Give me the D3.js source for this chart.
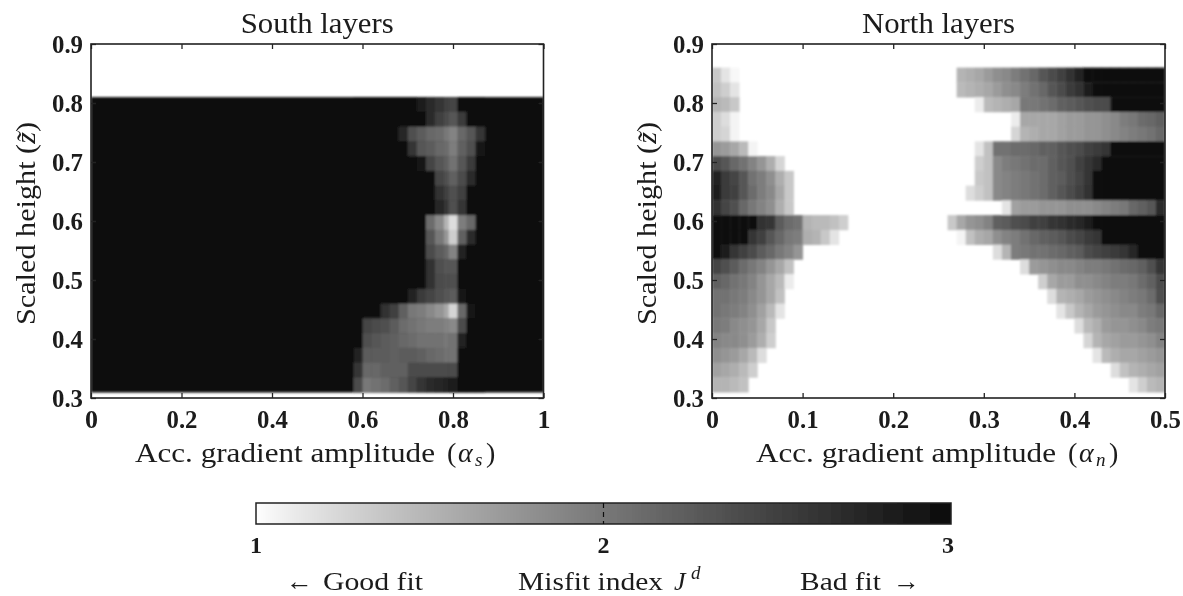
<!DOCTYPE html>
<html><head><meta charset="utf-8">
<script src="https://cdn.jsdelivr.net/npm/d3@7/dist/d3.min.js"></script>
<style>
html,body{margin:0;padding:0;background:#fff}
svg{display:block}
text{font-family:"Liberation Serif",serif;fill:#1a1a1a}
.tick text{font-weight:bold;font-size:25px}
</style></head><body>
<svg id="c" width="1183" height="596"></svg>
<script>
// ---------- data ----------
const titles = ["South layers", "North layers"];
const southTicksX = [0, 0.2, 0.4, 0.6, 0.8, 1];
const northTicksX = [0, 0.1, 0.2, 0.3, 0.4, 0.5];
const ticksY = [0.3, 0.4, 0.5, 0.6, 0.7, 0.8, 0.9];
const barTicks = [1, 2, 3];
const rowTopZ = 0.86;          // top of the first north row
const rowStep = 0.025;
const colStepNorth = 0.01;

// South: everything is J=3 except this window; edges in alpha, rows from z = 0.81 downward
const southEdges = [0.58,0.60,0.62,0.64,0.66,0.68,0.70,0.72,0.74,0.76,0.78,0.79,0.81,0.83,0.85,0.87];
const southRows = [
 [3,3,3,3,3,3,3,2.85,2.7,2.6,2.5,2.45,2.95,3,3],
 [3,3,3,3,3,3,3,3,2.7,2.5,2.4,2.3,2.55,3,3],
 [3,3,3,3,3,2.75,2.35,2.25,2.15,2.1,2.0,1.9,2.15,2.3,2.6],
 [3,3,3,3,3,3,2.6,2.3,2.25,2.15,2.1,1.95,2.2,2.35,2.9],
 [3,3,3,3,3,3,3,2.9,2.45,2.3,2.2,2.05,2.3,2.55,3],
 [3,3,3,3,3,3,3,3,2.95,2.45,2.35,2.2,2.4,2.7,3],
 [3,3,3,3,3,3,3,3,3,2.65,2.5,2.35,2.5,3,3],
 [3,3,3,3,3,3,3,3,2.95,2.75,2.6,2.35,2.6,3,3],
 [3,3,3,3,3,3,3,3,2.1,1.85,1.5,1.2,1.95,2.15,3],
 [3,3,3,3,3,3,3,3,2.3,2.0,1.75,1.3,2.2,2.7,3],
 [3,3,3,3,3,3,3,3,2.4,2.25,2.15,1.9,2.8,3,3],
 [3,3,3,3,3,3,3,3,2.65,2.35,2.3,2.3,3,3,3],
 [3,3,3,3,3,3,3,3,2.65,2.4,2.35,2.35,3,3,3],
 [3,3,3,3,3,3,2.8,2.55,2.45,2.35,2.3,2.25,2.9,3,3],
 [3,3,3,2.65,2.5,2.2,2.0,1.95,1.85,1.75,1.6,1.25,2.15,2.9,3],
 [3,2.45,2.4,2.35,2.25,2.1,2.05,2.0,1.95,1.95,1.9,1.85,2.4,3,3],
 [3,2.35,2.3,2.25,2.2,2.15,2.1,2.05,2.05,2.05,2.0,2.05,2.8,3,3],
 [2.8,2.25,2.25,2.25,2.2,2.25,2.25,2.2,2.15,2.1,2.05,2.05,3,3,3],
 [2.6,2.15,2.15,2.2,2.2,2.2,2.4,2.4,2.4,2.4,2.4,2.4,3,3,3],
 [2.4,2.0,2.05,2.1,2.2,2.3,2.45,2.6,2.7,2.75,2.8,2.85,3,3,3]
];

// North, left wedge: values from column 0 on; rows from z = 0.86 downward
const northLeft = [
 [1.35,1.15,1.03],
 [1.4,1.3,1.15],
 [1.5,1.45,1.35],
 [1.3,1.2,1.05],
 [1.3,1.25,1.05],
 [1.75,1.7,1.6,1.45,1.05],
 [2.4,2.3,2.15,2.05,1.9,1.75,1.55,1.25],
 [2.8,2.55,2.45,2.3,2.05,1.95,1.8,1.55,1.35],
 [2.85,2.55,2.5,2.3,2.1,1.95,1.85,1.6,1.35],
 [2.65,2.45,2.35,2.15,2.0,1.9,1.8,1.55,1.35],
 [2.95,2.95,2.95,2.95,2.95,2.65,2.6,2.25,2.1,2.05,1.5,1.45,1.45,1.4,1.3],
 [2.95,2.95,2.95,2.95,2.6,2.5,2.3,2.15,2.0,1.95,1.55,1.5,1.35,1.15],
 [2.95,2.85,2.6,2.5,2.4,2.25,2.15,2.0,1.9,1.75],
 [2.45,2.35,2.25,2.1,2.0,1.9,1.75,1.6,1.4],
 [2.2,2.15,2.05,2.0,1.9,1.75,1.6,1.45,1.1],
 [2.05,2.05,2.0,1.95,1.85,1.75,1.6,1.4],
 [2.05,2.0,1.95,1.9,1.8,1.65,1.45,1.15],
 [2.0,1.95,1.85,1.8,1.75,1.6,1.35],
 [1.9,1.85,1.85,1.8,1.7,1.55,1.3],
 [1.8,1.75,1.7,1.6,1.45,1.2],
 [1.65,1.6,1.55,1.45,1.3],
 [1.5,1.5,1.45,1.4]
];
// North, right wedge: first column of each row, then its values up to column 49
const northRightStart = [27,27,29,33,33,29,29,29,28,32,26,27,31,34,36,37,38,40,41,42,44,46];
const northRight = [
 [1.5,1.55,1.6,1.7,1.8,1.85,1.95,2.05,2.15,2.3,2.4,2.5,2.65,2.8,2.95,3,3,3,3,3,3,3,3],
 [1.45,1.5,1.55,1.6,1.7,1.8,1.85,1.95,2.05,2.15,2.3,2.4,2.55,2.65,2.85,3,3,3,3,3,3,3,3],
 [1.1,1.45,1.5,1.55,1.6,2.0,2.0,2.05,2.1,2.2,2.25,2.3,2.35,2.4,2.4,3,3,3,3,3,3],
 [1.1,1.6,1.6,1.6,1.6,1.65,1.7,1.7,1.75,1.75,1.8,1.85,1.95,2.0,2.1,2.15,2.2],
 [1.25,1.5,1.55,1.6,1.6,1.65,1.7,1.7,1.75,1.75,1.8,1.85,1.9,1.95,2.0,2.05,2.15],
 [1.15,1.4,2.05,2.05,2.1,2.1,2.15,2.2,2.2,2.3,2.35,2.4,2.5,2.55,2.6,3,3,3,3,3,3],
 [1.3,1.4,1.85,1.95,2,2.05,2.1,2.1,2.2,2.3,2.35,2.5,2.6,2.7,3,3,3,3,3,3,3],
 [1.35,1.4,1.85,1.9,1.95,2,2.05,2.1,2.2,2.25,2.35,2.45,2.6,3,3,3,3,3,3,3,3],
 [1.2,1.3,1.4,1.85,1.9,1.95,2,2.05,2.1,2.2,2.3,2.4,2.5,2.65,3,3,3,3,3,3,3,3],
 [1.15,1.65,1.7,1.7,1.75,1.75,1.75,1.8,1.8,1.8,1.85,1.9,1.95,2.0,2.15,2.2,2.3,2.7],
 [1.35,1.6,1.75,1.8,1.9,2.2,2.25,2.35,2.4,2.5,2.5,2.6,2.65,2.7,2.75,2.85,3,3,3,3,3,3,3,3],
 [1.05,1.4,1.55,1.6,1.8,1.9,1.95,2.05,2.15,2.2,2.25,2.3,2.4,2.45,2.55,2.6,3,3,3,3,3,3,3],
 [1.2,1.5,1.95,2.0,2.05,2.05,2.1,2.15,2.2,2.25,2.4,2.45,2.5,2.55,2.6,2.75,3,3,3],
 [1.2,1.7,1.75,1.8,1.85,1.85,1.9,1.95,1.95,2,2.05,2.1,2.15,2.2,2.35,2.6],
 [1.3,1.6,1.7,1.7,1.8,1.8,1.85,1.9,1.95,1.95,2,2.1,2.2,2.4],
 [1.2,1.5,1.55,1.6,1.7,1.75,1.8,1.85,1.9,1.95,2,2.1,2.35],
 [1.15,1.35,1.5,1.6,1.7,1.75,1.8,1.85,1.85,1.95,2,2.15],
 [1.2,1.45,1.55,1.7,1.75,1.75,1.8,1.85,1.95,2],
 [1.25,1.5,1.6,1.65,1.7,1.7,1.75,1.8,1.9],
 [1.15,1.45,1.55,1.6,1.6,1.65,1.7,1.75],
 [1.2,1.4,1.5,1.55,1.6,1.65],
 [1.15,1.3,1.45,1.5]
];

// ---------- drawing ----------
const svg = d3.select("#c");
const defs = svg.append("defs");
defs.append("filter").attr("id","soft").attr("x","-2%").attr("y","-2%").attr("width","104%").attr("height","104%")
  .append("feGaussianBlur").attr("stdDeviation",0.9);
defs.append("filter").attr("id","softText").attr("x","-2%").attr("y","-2%").attr("width","104%").attr("height","104%")
  .append("feGaussianBlur").attr("stdDeviation",0.4);

const misfitT = d3.scaleLinear().domain([1,3]).range([0,1]).clamp(true);
const grayRamp = d3.interpolateRgb("#ffffff","#0b0b0b");
const color = v => grayRamp(Math.pow(misfitT(v),0.85));
const yTop = 44, yBot = 398;
const y = d3.scaleLinear().domain([0.3,0.9]).range([yBot,yTop]);
const ink = "#222";
const stretch = "spacingAndGlyphs";

function panel(idx, x0, x1, xDom, xTicks, cells, xlabelSub, lx, closeOffset){
  const x = d3.scaleLinear().domain(xDom).range([x0,x1]);
  const g = svg.append("g");
  const clip = "clip"+idx;
  defs.append("clipPath").attr("id",clip).append("rect")
    .attr("x",x0).attr("y",yTop).attr("width",x1-x0).attr("height",yBot-yTop);
  g.append("g").attr("clip-path",`url(#${clip})`)
   .append("g").attr("filter","url(#soft)")
   .selectAll("rect").data(cells).join("rect")
    .attr("x",d=>x(d.a0)).attr("width",d=>x(d.a1)-x(d.a0)+0.4)
    .attr("y",d=>y(d.z1)).attr("height",d=>y(d.z0)-y(d.z1)+0.4)
    .attr("fill",d=>color(d.v));
  const fmt = d=>String(d);
  const inner = 5;
  const bottom = d3.axisBottom(x).tickValues(xTicks).tickFormat(fmt).tickSizeInner(-inner).tickSizeOuter(0).tickPadding(12);
  const top = d3.axisTop(x).tickValues(xTicks).tickFormat("").tickSizeInner(-inner).tickSizeOuter(0);
  const left = d3.axisLeft(y).tickValues(ticksY).tickFormat(d=>d.toFixed(1)).tickSizeInner(-inner).tickSizeOuter(0).tickPadding(8);
  const right = d3.axisRight(y).tickValues(ticksY).tickFormat("").tickSizeInner(-inner).tickSizeOuter(0);
  const ag = g.append("g").attr("filter","url(#softText)");
  ag.append("g").attr("transform",`translate(0,${yBot})`).call(bottom);
  ag.append("g").attr("transform",`translate(0,${yTop})`).call(top);
  ag.append("g").attr("transform",`translate(${x0},0)`).call(left);
  ag.append("g").attr("transform",`translate(${x1},0)`).call(right);
  ag.selectAll(".domain").remove();
  ag.selectAll(".tick line").attr("stroke",ink).attr("stroke-width",1.3);
  ag.append("rect").attr("x",x0).attr("y",yTop).attr("width",x1-x0).attr("height",yBot-yTop)
    .attr("fill","none").attr("stroke",ink).attr("stroke-width",1.6);
  ag.selectAll(".tick text").attr("fill","#111")
    .attr("textLength",function(){return this.textContent.length>1?31:13;}).attr("lengthAdjust",stretch);
  // title
  ag.append("text").attr("x",(x0+x1)/2).attr("y",33).attr("text-anchor","middle")
    .attr("font-size",29).attr("textLength",153).attr("lengthAdjust",stretch).text(titles[idx]);
  // y label
  const yl = ag.append("text").attr("transform",`translate(${x0-56},223.5) rotate(-90)`)
    .attr("text-anchor","middle").attr("font-size",28).attr("textLength",203).attr("lengthAdjust",stretch);
  yl.append("tspan").text("Scaled height (");
  yl.append("tspan").attr("font-style","italic").text("z\u0303");
  yl.append("tspan").text(")");
  // x label
  const by = 462;
  ag.append("text").attr("x",lx).attr("y",by).attr("font-size",28).attr("textLength",300).attr("lengthAdjust",stretch).text("Acc. gradient amplitude");
  ag.append("text").attr("x",lx+312).attr("y",by).attr("font-size",28).text("(");
  ag.append("text").attr("x",lx+323).attr("y",by).attr("font-size",28).attr("font-style","italic").text("\u03b1");
  ag.append("text").attr("x",lx+340).attr("y",by+4).attr("font-size",19).attr("font-style","italic").text(xlabelSub);
  ag.append("text").attr("x",lx+closeOffset).attr("y",by).attr("font-size",28).text(")");
}

// south cells
const southCells = [{a0:0,a1:1,z0:0.31,z1:0.81,v:3}];
southRows.forEach((row,r)=>row.forEach((v,i)=>southCells.push({
  a0:southEdges[i],a1:southEdges[i+1],z1:0.81-r*rowStep,z0:0.81-(r+1)*rowStep,v})));
// north cells
const northCells = [];
northLeft.forEach((row,r)=>row.forEach((v,i)=>northCells.push({
  a0:i*colStepNorth,a1:(i+1)*colStepNorth,z1:rowTopZ-r*rowStep,z0:rowTopZ-(r+1)*rowStep,v})));
northRight.forEach((row,r)=>row.forEach((v,i)=>{const k=northRightStart[r]+i;northCells.push({
  a0:k*colStepNorth,a1:(k+1)*colStepNorth,z1:rowTopZ-r*rowStep,z0:rowTopZ-(r+1)*rowStep,v})}));

panel(0,91,543.5,[0,1],southTicksX,southCells,"s",135,351);
panel(1,712,1165,[0,0.5],northTicksX,northCells,"n",756,353);

// colour bar
const barX = d3.scaleLinear().domain([1,3]).range([256,951]);
const barG = svg.append("g").attr("filter","url(#softText)");
const barPixels = d3.range(256,951);
barG.selectAll("rect.s").data(barPixels).join("rect").attr("class","s")
  .attr("x",d=>d).attr("width",1).attr("shape-rendering","crispEdges")
  .attr("y",503).attr("height",21).attr("fill",d=>color(barX.invert(d)));
barG.append("rect").attr("x",256).attr("y",503).attr("width",695).attr("height",21)
  .attr("fill","none").attr("stroke",ink).attr("stroke-width",1.5);
barG.append("line").attr("x1",barX(2)).attr("x2",barX(2)).attr("y1",503).attr("y2",524)
  .attr("stroke","#111").attr("stroke-width",1.2).attr("stroke-dasharray","5,4");
barG.selectAll("text.t").data(barTicks).join("text").attr("class","t")
  .attr("x",d=>barX(d)-(d===3?3:0)).attr("y",553).attr("text-anchor","middle")
  .attr("font-weight","bold").attr("font-size",24).attr("fill","#111").text(d=>d);
const lab = barG.append("g").attr("font-size",26);
const by2 = 590;
lab.append("text").attr("x",286).attr("y",by2).attr("textLength",27).attr("lengthAdjust",stretch).text("\u2190");
lab.append("text").attr("x",323).attr("y",by2).attr("textLength",100).attr("lengthAdjust",stretch).text("Good fit");
lab.append("text").attr("x",518).attr("y",by2).attr("textLength",145).attr("lengthAdjust",stretch).text("Misfit index");
lab.append("text").attr("x",674).attr("y",by2).attr("font-style","italic").text("J");
lab.append("text").attr("x",691).attr("y",by2-11).attr("font-size",19).attr("font-style","italic").text("d");
lab.append("text").attr("x",800).attr("y",by2).attr("textLength",81).attr("lengthAdjust",stretch).text("Bad fit");
lab.append("text").attr("x",893).attr("y",by2).attr("textLength",27).attr("lengthAdjust",stretch).text("\u2192");
</script>
</body></html>
